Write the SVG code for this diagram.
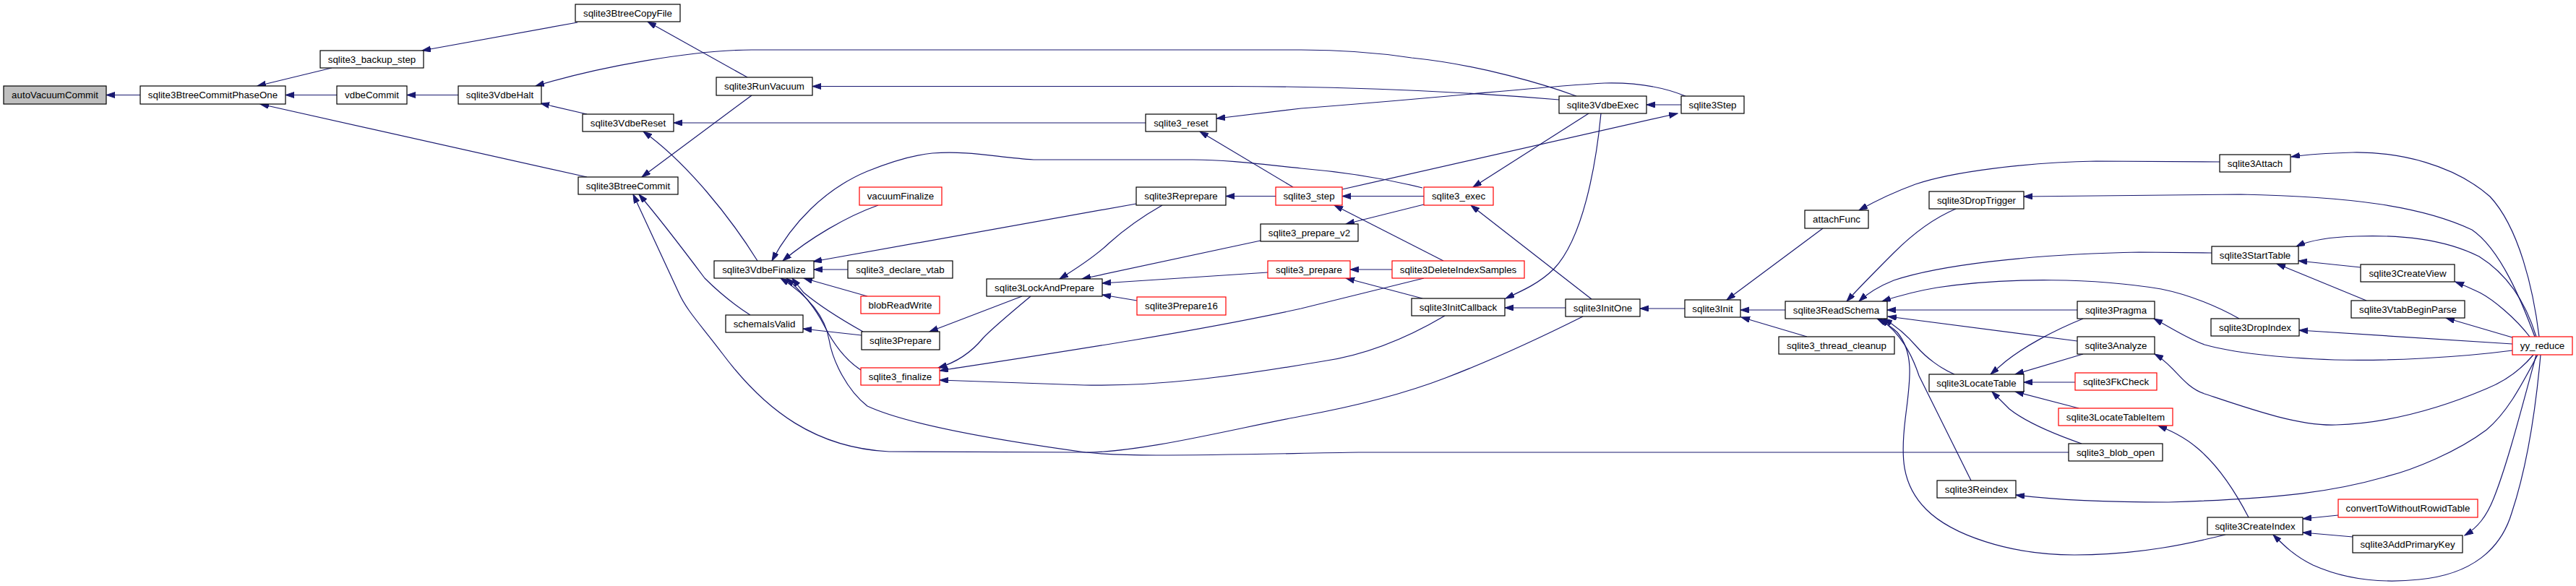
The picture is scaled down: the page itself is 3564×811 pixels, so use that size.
<svg xmlns="http://www.w3.org/2000/svg" width="3564" height="811" viewBox="0 0 3564 811">
<style>
.n rect{fill:#fff;stroke:#000;stroke-width:1.2}
.r rect{fill:#fff;stroke:#f00;stroke-width:1.2}
.g rect{fill:#bfbfbf;stroke:#000;stroke-width:1.2}
text{font-family:"Liberation Sans",Arial,Helvetica,sans-serif;font-size:13.33px;fill:#000;text-anchor:middle}
.e{fill:none;stroke:#191970;stroke-width:1.2;marker-end:url(#ah)}
</style>
<defs>
<marker id="ah" markerUnits="userSpaceOnUse" markerWidth="13" markerHeight="9" refX="12" refY="4" orient="auto">
<path d="M0,0 L12,4 L0,8 z" fill="#191970" stroke="#191970" stroke-width="1"/>
</marker>
</defs>
<rect width="3564" height="811" fill="#fff"/>
<g id="edges">
<path class="e" d="M194,131.5 L147,131.5"/>
<path class="e" d="M459,94 L356,119"/>
<path class="e" d="M466,131.5 L395,131.5"/>
<path class="e" d="M812,245 L360,144"/>
<path class="e" d="M799,31 L584,70"/>
<path class="e" d="M634,131.5 L563,131.5"/>
<path class="e" d="M2181,133 C2140,118 2050,90 1953,80 C1900,72 1850,69 1800,69 L1040,69 C960,69 830,92 741,119"/>
<path class="e" d="M812,158 L748,143"/>
<path class="e" d="M1034,107 L896,30"/>
<path class="e" d="M2157,138 C2000,125 1850,119.5 1700,119.5 L1124,119.5"/>
<path class="e" d="M1040,132 L888,245"/>
<path class="e" d="M1585,170 L932,170"/>
<path class="e" d="M1048,361 C1010,300 950,225 890,182"/>
<path class="e" d="M1789,259 L1660,182"/>
<path class="e" d="M2332,133 C2300,120 2260,114 2220,115 C2150,118 2000,135 1800,150 L1683,164"/>
<path class="e" d="M1038,436 C1010,418 990,400 975,385 C945,345 915,305 884,269"/>
<path class="e" d="M2190,438 C2130,468 2060,500 2000,523 C1930,550 1860,565 1800,576 C1700,595 1580,626 1502,626 L1230,625 C1130,620 1060,570 1000,490 C970,450 950,430 939,405 L876,269"/>
<path class="e" d="M2862,626 L1880,626 C1800,627 1700,630 1600,630 C1540,630 1520,628 1502,626 C1400,612 1260,590 1200,562 C1172,540 1152,500 1147,470 C1142,440 1120,410 1080,385"/>
<path class="e" d="M1191,512 C1165,495 1150,470 1140,450 C1125,420 1105,400 1088,385"/>
<path class="e" d="M1194,459 C1160,440 1130,420 1112,405 L1096,385"/>
<path class="e" d="M1200,410 L1112,385"/>
<path class="e" d="M1968,260 C1920,248 1860,238 1800,233 C1750,228 1700,221 1650,221 L1430,221 C1380,218 1340,208 1290,212 C1260,215 1230,225 1200,237 C1140,262 1095,310 1068,361"/>
<path class="e" d="M1215,284 C1170,300 1120,330 1083,361"/>
<path class="e" d="M1572,282 L1125,362"/>
<path class="e" d="M1173,373 L1126,373"/>
<path class="e" d="M1765,271.5 L1696,271.5"/>
<path class="e" d="M1608,284 C1580,300 1555,318 1535,336 C1515,355 1492,370 1466,386"/>
<path class="e" d="M1744,333 L1497,386"/>
<path class="e" d="M1754,377 L1525,392"/>
<path class="e" d="M1573,416 L1525,408"/>
<path class="e" d="M1414,410 L1286,459"/>
<path class="e" d="M1426,410 C1390,440 1372,455 1360,468 C1342,490 1322,502 1298,509"/>
<path class="e" d="M1970,385 L1800,427 C1650,460 1450,490 1300,513"/>
<path class="e" d="M1999,437 C1960,460 1900,490 1830,500 C1700,522 1600,535 1500,533 L1300,526"/>
<path class="e" d="M1192,464 L1111,455"/>
<path class="e" d="M2326,145 L2278,145"/>
<path class="e" d="M1857,262 L2321,157"/>
<path class="e" d="M1970,271.5 L1857,271.5"/>
<path class="e" d="M2198,157 L2038,259"/>
<path class="e" d="M1970,283 L1862,310"/>
<path class="e" d="M1997,361 L1846,284"/>
<path class="e" d="M1926,373 L1868,373"/>
<path class="e" d="M2202,414 L2035,284"/>
<path class="e" d="M2215,157 C2208,230 2190,330 2150,372 C2130,392 2105,403 2083,413"/>
<path class="e" d="M1968,413 L1862,385"/>
<path class="e" d="M2166,426 L2082,426"/>
<path class="e" d="M2331,427 L2269,427"/>
<path class="e" d="M2522,316 L2389,415"/>
<path class="e" d="M2470,429 L2408,429"/>
<path class="e" d="M2500,466 L2409,439"/>
<path class="e" d="M3071,224 L2900,223 C2800,225 2700,238 2650,255 C2620,266 2595,278 2572,291"/>
<path class="e" d="M2706,289 C2680,300 2650,320 2620,350 C2595,375 2575,395 2555,417"/>
<path class="e" d="M3507,466 C3490,420 3460,345 3420,318 C3350,285 3250,272 3100,269 L2800,272"/>
<path class="e" d="M3513,466 C3505,400 3485,315 3445,272 C3395,228 3320,210 3255,211 C3215,212 3190,214 3170,217"/>
<path class="e" d="M3060,350 L2960,349 C2800,352 2680,368 2620,388 C2600,396 2585,405 2572,417"/>
<path class="e" d="M3098,441 C3070,425 3030,408 2990,400 C2900,385 2780,383 2680,398 C2650,403 2625,410 2604,417"/>
<path class="e" d="M2874,429 L2611,429"/>
<path class="e" d="M2874,472 L2612,438"/>
<path class="e" d="M2704,518 C2685,510 2665,495 2652,480 C2640,466 2625,452 2606,441"/>
<path class="e" d="M2727,665 L2655,520 C2645,490 2630,462 2601,441"/>
<path class="e" d="M3079,740 C3030,752 2960,768 2870,768 C2780,768 2700,740 2665,705 C2630,670 2630,630 2636,580 C2642,530 2650,490 2625,460 C2615,450 2605,445 2597,441"/>
<path class="e" d="M2882,441 C2840,458 2800,480 2775,500 L2754,518"/>
<path class="e" d="M2882,490 L2788,518"/>
<path class="e" d="M2871,529 L2800,529"/>
<path class="e" d="M2876,565 L2788,542"/>
<path class="e" d="M2880,614 C2840,600 2800,582 2780,566 L2756,542"/>
<path class="e" d="M3476,485 C3400,495 3300,500 3230,498 C3150,495 3090,488 3050,477 C3025,468 3008,456 2980,441"/>
<path class="e" d="M3505,491 C3485,515 3460,530 3440,538 C3400,555 3320,585 3232,588 C3180,590 3110,565 3050,545 C3020,535 3008,505 2981,490"/>
<path class="e" d="M3111,716 C3095,685 3070,645 3040,620 C3020,603 3000,595 2986,589"/>
<path class="e" d="M3511,491 C3490,530 3470,570 3440,595 C3400,625 3340,650 3300,660 C3230,680 3160,690 3000,695 C2930,695 2850,693 2789,685"/>
<path class="e" d="M3509,466 C3495,420 3470,380 3430,355 C3380,330 3320,325 3260,327 C3220,328 3195,333 3177,341"/>
<path class="e" d="M3266,370 L3180,361"/>
<path class="e" d="M3274,416 L3150,365"/>
<path class="e" d="M3500,466 C3480,440 3450,415 3431,405 C3420,400 3410,395 3397,390"/>
<path class="e" d="M3476,467 L3384,440"/>
<path class="e" d="M3476,476 L3181,457"/>
<path class="e" d="M3235,713 L3186,718"/>
<path class="e" d="M3255,743 L3186,737"/>
<path class="e" d="M3515,491 C3508,570 3495,650 3475,710 C3460,760 3420,795 3347,802 C3290,808 3240,800 3200,782 C3175,770 3160,755 3145,740"/>
<path class="e" d="M3509,491 C3490,560 3470,640 3450,690 C3440,715 3428,730 3410,741"/>
</g>
<g id="autoVacuumCommit" class="g"><rect x="5" y="119" width="142" height="25"/><text x="76" y="136.2">autoVacuumCommit</text></g>
<g id="sqlite3BtreeCommitPhaseOne" class="n"><rect x="194" y="119" width="201" height="25"/><text x="294.5" y="136.2">sqlite3BtreeCommitPhaseOne</text></g>
<g id="sqlite3_backup_step" class="n"><rect x="443" y="70" width="143" height="24"/><text x="514.5" y="86.7">sqlite3_backup_step</text></g>
<g id="vdbeCommit" class="n"><rect x="466" y="119" width="97" height="25"/><text x="514.5" y="136.2">vdbeCommit</text></g>
<g id="sqlite3BtreeCopyFile" class="n"><rect x="796" y="6" width="145" height="24"/><text x="868.5" y="22.7">sqlite3BtreeCopyFile</text></g>
<g id="sqlite3VdbeHalt" class="n"><rect x="634" y="119" width="115" height="25"/><text x="691.5" y="136.2">sqlite3VdbeHalt</text></g>
<g id="sqlite3RunVacuum" class="n"><rect x="991" y="107" width="133" height="25"/><text x="1057.5" y="124.2">sqlite3RunVacuum</text></g>
<g id="sqlite3VdbeReset" class="n"><rect x="806" y="158" width="126" height="24"/><text x="869" y="174.7">sqlite3VdbeReset</text></g>
<g id="sqlite3BtreeCommit" class="n"><rect x="800" y="245" width="138" height="24"/><text x="869" y="261.7">sqlite3BtreeCommit</text></g>
<g id="sqlite3VdbeFinalize" class="n"><rect x="988" y="361" width="138" height="24"/><text x="1057" y="377.7">sqlite3VdbeFinalize</text></g>
<g id="schemaIsValid" class="n"><rect x="1004" y="436" width="107" height="24"/><text x="1057.5" y="452.7">schemaIsValid</text></g>
<g id="vacuumFinalize" class="r"><rect x="1189" y="259" width="114" height="25"/><text x="1246" y="276.2">vacuumFinalize</text></g>
<g id="sqlite3_reset" class="n"><rect x="1585" y="158" width="98" height="24"/><text x="1634" y="174.7">sqlite3_reset</text></g>
<g id="sqlite3Reprepare" class="n"><rect x="1572" y="259" width="124" height="25"/><text x="1634" y="276.2">sqlite3Reprepare</text></g>
<g id="sqlite3_declare_vtab" class="n"><rect x="1173" y="361" width="145" height="24"/><text x="1245.5" y="377.7">sqlite3_declare_vtab</text></g>
<g id="sqlite3LockAndPrepare" class="n"><rect x="1365" y="386" width="160" height="24"/><text x="1445" y="402.7">sqlite3LockAndPrepare</text></g>
<g id="sqlite3_step" class="r"><rect x="1765" y="259" width="92" height="25"/><text x="1811" y="276.2">sqlite3_step</text></g>
<g id="sqlite3_prepare_v2" class="n"><rect x="1744" y="310" width="135" height="24"/><text x="1811.5" y="326.7">sqlite3_prepare_v2</text></g>
<g id="sqlite3_prepare" class="r"><rect x="1754" y="361" width="114" height="24"/><text x="1811" y="377.7">sqlite3_prepare</text></g>
<g id="blobReadWrite" class="r"><rect x="1191" y="410" width="109" height="24"/><text x="1245.5" y="426.7">blobReadWrite</text></g>
<g id="sqlite3Prepare" class="n"><rect x="1192" y="459" width="108" height="25"/><text x="1246" y="476.2">sqlite3Prepare</text></g>
<g id="sqlite3_finalize" class="r"><rect x="1191" y="509" width="109" height="24"/><text x="1245.5" y="525.7">sqlite3_finalize</text></g>
<g id="sqlite3Prepare16" class="r"><rect x="1573" y="411" width="123" height="25"/><text x="1634.5" y="428.2">sqlite3Prepare16</text></g>
<g id="sqlite3VdbeExec" class="n"><rect x="2157" y="133" width="121" height="24"/><text x="2217.5" y="149.7">sqlite3VdbeExec</text></g>
<g id="sqlite3Step" class="n"><rect x="2326" y="133" width="87" height="24"/><text x="2369.5" y="149.7">sqlite3Step</text></g>
<g id="sqlite3_exec" class="r"><rect x="1970" y="259" width="96" height="25"/><text x="2018" y="276.2">sqlite3_exec</text></g>
<g id="sqlite3DeleteIndexSamples" class="r"><rect x="1926" y="361" width="183" height="24"/><text x="2017.5" y="377.7">sqlite3DeleteIndexSamples</text></g>
<g id="sqlite3InitCallback" class="n"><rect x="1953" y="413" width="129" height="24"/><text x="2017.5" y="429.7">sqlite3InitCallback</text></g>
<g id="sqlite3InitOne" class="n"><rect x="2166" y="414" width="103" height="24"/><text x="2217.5" y="430.7">sqlite3InitOne</text></g>
<g id="sqlite3Init" class="n"><rect x="2331" y="415" width="77" height="24"/><text x="2369.5" y="431.7">sqlite3Init</text></g>
<g id="attachFunc" class="n"><rect x="2497" y="291" width="88" height="25"/><text x="2541" y="308.2">attachFunc</text></g>
<g id="sqlite3DropTrigger" class="n"><rect x="2669" y="265" width="131" height="24"/><text x="2734.5" y="281.7">sqlite3DropTrigger</text></g>
<g id="sqlite3ReadSchema" class="n"><rect x="2470" y="417" width="141" height="24"/><text x="2540.5" y="433.7">sqlite3ReadSchema</text></g>
<g id="sqlite3_thread_cleanup" class="n"><rect x="2461" y="466" width="160" height="24"/><text x="2541" y="482.7">sqlite3_thread_cleanup</text></g>
<g id="sqlite3Pragma" class="n"><rect x="2874" y="417" width="107" height="24"/><text x="2927.5" y="433.7">sqlite3Pragma</text></g>
<g id="sqlite3Analyze" class="n"><rect x="2874" y="466" width="107" height="24"/><text x="2927.5" y="482.7">sqlite3Analyze</text></g>
<g id="sqlite3LocateTable" class="n"><rect x="2669" y="518" width="131" height="24"/><text x="2734.5" y="534.7">sqlite3LocateTable</text></g>
<g id="sqlite3FkCheck" class="r"><rect x="2871" y="516" width="113" height="24"/><text x="2927.5" y="532.7">sqlite3FkCheck</text></g>
<g id="sqlite3LocateTableItem" class="r"><rect x="2848" y="565" width="158" height="24"/><text x="2927" y="581.7">sqlite3LocateTableItem</text></g>
<g id="sqlite3_blob_open" class="n"><rect x="2862" y="614" width="130" height="24"/><text x="2927" y="630.7">sqlite3_blob_open</text></g>
<g id="sqlite3Reindex" class="n"><rect x="2680" y="665" width="109" height="24"/><text x="2734.5" y="681.7">sqlite3Reindex</text></g>
<g id="sqlite3Attach" class="n"><rect x="3071" y="214" width="98" height="24"/><text x="3120" y="230.7">sqlite3Attach</text></g>
<g id="sqlite3StartTable" class="n"><rect x="3060" y="341" width="120" height="24"/><text x="3120" y="357.7">sqlite3StartTable</text></g>
<g id="sqlite3CreateView" class="n"><rect x="3266" y="366" width="130" height="24"/><text x="3331" y="382.7">sqlite3CreateView</text></g>
<g id="sqlite3VtabBeginParse" class="n"><rect x="3253" y="416" width="157" height="24"/><text x="3331.5" y="432.7">sqlite3VtabBeginParse</text></g>
<g id="sqlite3DropIndex" class="n"><rect x="3059" y="441" width="122" height="24"/><text x="3120" y="457.7">sqlite3DropIndex</text></g>
<g id="yy_reduce" class="r"><rect x="3476" y="466" width="83" height="25"/><text x="3517.5" y="483.2">yy_reduce</text></g>
<g id="convertToWithoutRowidTable" class="r"><rect x="3235" y="691" width="193" height="25"/><text x="3331.5" y="708.2">convertToWithoutRowidTable</text></g>
<g id="sqlite3CreateIndex" class="n"><rect x="3054" y="716" width="132" height="24"/><text x="3120" y="732.7">sqlite3CreateIndex</text></g>
<g id="sqlite3AddPrimaryKey" class="n"><rect x="3255" y="741" width="152" height="24"/><text x="3331" y="757.7">sqlite3AddPrimaryKey</text></g>
</svg>
